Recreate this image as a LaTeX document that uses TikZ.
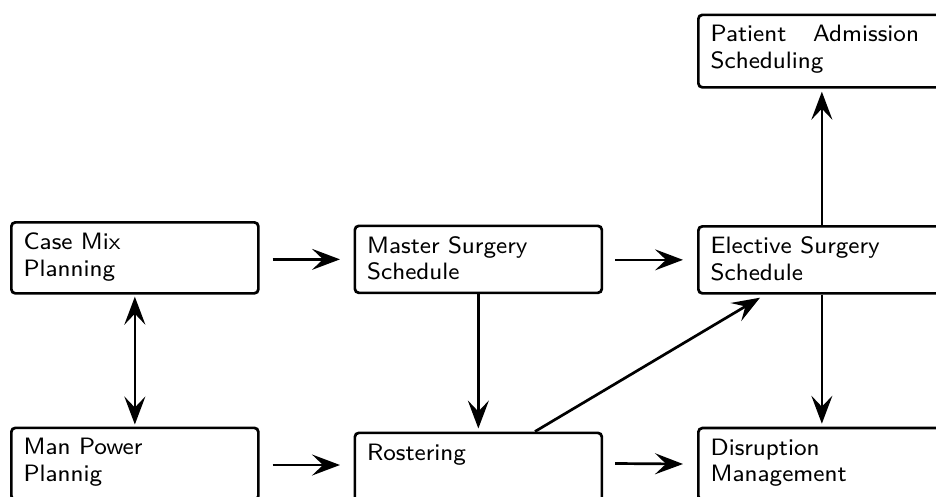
\documentclass[tikz,border=0pt]{standalone}
\usepackage{graphicx}
\usetikzlibrary{arrows.meta}
\tikzset{
  box/.style={draw, line width=2.7pt, rounded corners=4pt, anchor=north west,
    inner sep=0pt, minimum width=247pt},
  lbl/.style={anchor=base west, inner sep=0pt},
  tip/.tip={Stealth[length=28pt,width=21pt,inset=11pt]},
  arr/.style={line width=2.7pt, -tip},
  darr/.style={line width=2.7pt, tip-tip},
}
\newcommand{\boxtext}[1]{\scalebox{2.96}{\parbox[t]{70.4pt}{\fontsize{8}{9.02}\selectfont\sffamily #1}}}
\begin{document}
\begin{tikzpicture}[x=1pt,y=-1pt]
\useasboundingbox (0,0) rectangle (936,496);
\clip (0,0) rectangle (936,496);

% boxes
\node[box, minimum height=71pt]   (cmp) at (10,221)    {};
\node[box, minimum height=67pt]   (mss) at (353.5,224.5) {};
\node[box, minimum height=67pt]   (ess) at (697,225)   {};
\node[box, minimum height=72.5pt] (pas) at (697,13.5)  {};
\node[box, minimum height=72pt]   (mpp) at (10,426.5)  {};
\node[box, minimum height=72pt]   (ros) at (353.5,431.5) {};
\node[box, minimum height=72pt]   (dis) at (697,426.7) {};

% texts
\node[lbl] (cmpT) at ([shift={(13.4,28.3)}]cmp.north west) {\boxtext{Case Mix\\Planning}};
\node[lbl] (mssT) at ([shift={(13.4,28.5)}]mss.north west) {\boxtext{Master Surgery\\Schedule}};
\node[lbl] (essT) at ([shift={(13.4,28.3)}]ess.north west) {\boxtext{Elective Surgery\\Schedule}};
\node[lbl] (pasT) at ([shift={(13.4,28.2)}]pas.north west) {\boxtext{\makebox[\linewidth][s]{Patient Admission}\\Scheduling}};
\node[lbl] (mppT) at ([shift={(13.4,28.2)}]mpp.north west) {\boxtext{Man Power\\Plannig}};
\node[lbl] (rosT) at ([shift={(13.4,28.5)}]ros.north west) {\boxtext{Rostering}};
\node[lbl] (disT) at ([shift={(13.4,28.3)}]dis.north west) {\boxtext{Disruption\\Management}};

% connectors
\draw[arr] ([xshift=13pt]cmp.east |- mss.west) -- ([xshift=-13.5pt]mss.west);
\draw[arr] ([xshift=12pt]mss.east |- ess.west) -- ([xshift=-14pt]ess.west);
\draw[arr] ([shift={(13,38.5)}]mpp.north east) -- ([shift={(-13.5,33.5)}]ros.north west);
\draw[arr] ([shift={(12,32)}]ros.north east) -- ([shift={(-14,37.3)}]dis.north west);
\draw[darr, shorten <=2pt, shorten >=2pt] (cmp.south) -- (mpp.north);
\draw[arr, shorten >=3pt] (mss.south) -- (ros.north);
\draw[arr] ([shift={(181.5,0)}]ros.north west) -- ([shift={(63,3)}]ess.south west);
\draw[arr, shorten >=3pt] (ess.south) -- (dis.north);
\draw[arr, shorten >=3pt] (ess.north) -- (pas.south);
\end{tikzpicture}
\end{document}
